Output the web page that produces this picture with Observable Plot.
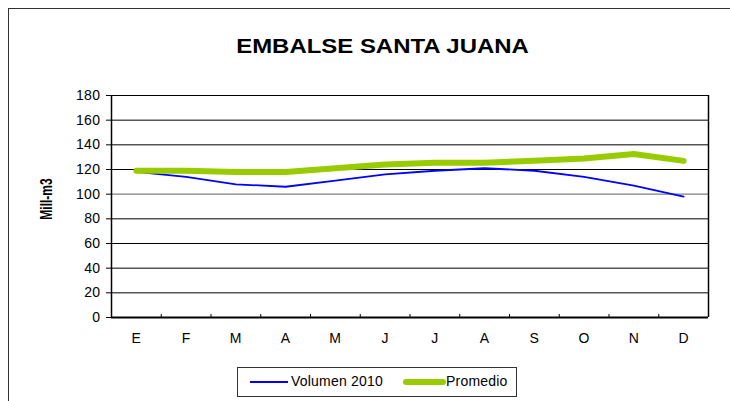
<!DOCTYPE html>
<html>
<head>
<meta charset="utf-8">
<script src="https://cdn.jsdelivr.net/npm/d3@7"></script>
<script src="https://cdn.jsdelivr.net/npm/@observablehq/plot@0.6"></script>
<style>
  html, body { margin: 0; padding: 0; background: #fff; }
  #wrap { position: relative; width: 730px; height: 401px; overflow: hidden; font-family: "Liberation Sans", Arial, sans-serif; }
  #frame { position: absolute; left: 8px; top: 8px; width: 760px; height: 440px; border: 1.5px solid #333; box-sizing: border-box; }
  #title { position: absolute; left: 0; top: 35px; width: 765px; text-align: center; font-size: 21px; line-height: 21px; font-weight: bold; transform: scaleX(1.14); transform-origin: 382.5px 0; white-space: nowrap; }
  #ylab { position: absolute; left: 47px; top: 198.5px; font-size: 12px; font-weight: bold; white-space: nowrap; transform: translate(-50%, -50%) scaleX(1.3) rotate(-90deg); line-height: 13px; }
  #legend { position: absolute; left: 237px; top: 367px; width: 280px; height: 30px; border: 1px solid #333; box-sizing: border-box; background: #fff; }
  .sw { position: absolute; }
  .lt { position: absolute; top: 5px; font-size: 14px; line-height: 17px; letter-spacing: 0.2px; white-space: nowrap; }
  #plot svg { position: absolute; left: 0; top: 0; }
</style>
</head>
<body>
<div id="wrap">
  <div id="frame"></div>
  <div id="plot"></div>
  <div id="title">EMBALSE SANTA JUANA</div>
  <div id="ylab">Mill-m3</div>
  <div id="legend"></div>
</div>
<script>
const months = ["E","F","M","A","M","J","J","A","S","O","N","D"];
const volumen2010 = [118, 114, 108, 106, 111, 116, 119, 121, 119, 114, 107, 98];
const promedio = [119, 119, 118, 118, 121, 124, 125.5, 125.5, 127, 129, 132.5, 127];
const yTicks = [0, 20, 40, 60, 80, 100, 120, 140, 160, 180];
const seriesNames = ["Volumen 2010", "Promedio"];
const seriesColors = ["#0000FF", "#99CC00"];

const idx = d3.range(months.length);
const boundaries = d3.range(0.5, months.length - 1, 1);

const chart = Plot.plot({
  width: 730,
  height: 401,
  marginLeft: 111,
  marginRight: 22,
  marginTop: 95,
  marginBottom: 84,
  x: { type: "linear", domain: [-0.5, months.length - 0.5] },
  y: { domain: [0, 180] },
  style: { fontFamily: "Liberation Sans, Arial, sans-serif", fontSize: "14px", color: "#000", background: "transparent", letterSpacing: "0.4px", overflow: "visible" },
  marks: [
    Plot.ruleY(yTicks.filter(d => d > 0), { stroke: d => d === 100 ? "#808080" : "#000", strokeWidth: d => d === 100 ? 1.3 : 1 }),
    Plot.ruleX([months.length - 0.5], { y1: 0, y2: 180, stroke: "#000", strokeWidth: 1.5 }),
    Plot.axisY({ ticks: yTicks, tickSize: 5, tickPadding: 6, label: null, stroke: "#000" }),
    Plot.ruleX([-0.5], { y1: 0, y2: 180, stroke: "#000", strokeWidth: 1.5 }),
    Plot.ruleX(boundaries, { stroke: "#000", strokeWidth: 1, insetTop: 219 }),
    Plot.ruleY([0], { stroke: "#000", strokeWidth: 2 }),
    Plot.axisX({ ticks: idx, tickFormat: i => months[i], tickSize: 0, tickPadding: 16, label: null }),
    Plot.line(volumen2010, { x: (d, i) => i, y: d => d, stroke: seriesColors[0], strokeWidth: 1.8, strokeLinejoin: "round" }),
    Plot.line(promedio, { x: (d, i) => i, y: d => d, stroke: seriesColors[1], strokeWidth: 6, strokeLinecap: "round", strokeLinejoin: "round" })
  ]
});
document.getElementById("plot").appendChild(chart);

// legend
const legend = document.getElementById("legend");
const legendLayout = [{ sx: 12, sw: 38, tx: 53 }, { sx: 165, sw: 43, tx: 208 }];
seriesNames.forEach((name, k) => {
  const L = legendLayout[k];
  const sw = document.createElement("div");
  sw.className = "sw";
  const th = k === 0 ? 2 : 6;
  sw.style.left = L.sx + "px";
  sw.style.width = L.sw + "px";
  sw.style.height = th + "px";
  sw.style.top = (14 - th / 2) + "px";
  sw.style.background = seriesColors[k];
  if (k === 1) sw.style.borderRadius = "3px";
  legend.appendChild(sw);
  const t = document.createElement("div");
  t.className = "lt";
  t.style.left = L.tx + "px";
  t.textContent = name;
  legend.appendChild(t);
});
</script>
</body>
</html>
